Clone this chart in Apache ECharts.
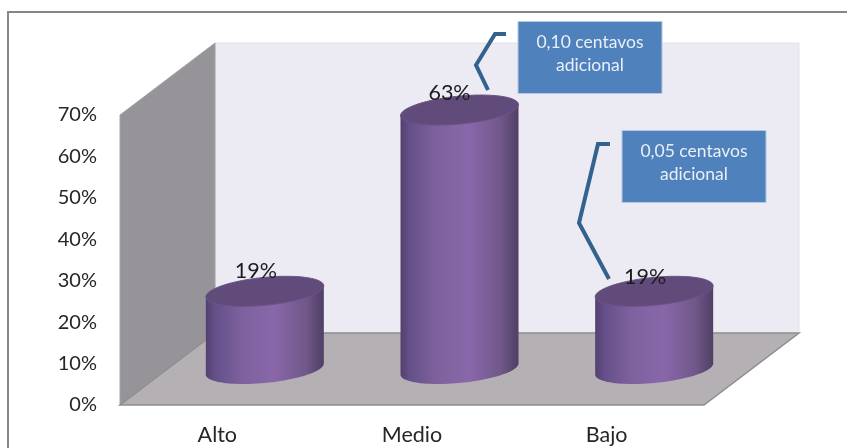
<!DOCTYPE html>
<html><head><meta charset="utf-8">
<style>html,body{margin:0;padding:0;background:#fff}#c{width:847px;height:448px}</style>
<script src="https://cdn.jsdelivr.net/npm/echarts@6/dist/echarts.min.js"></script>
</head><body><div id="c"></div>
<script>
const categories = ['Alto', 'Medio', 'Bajo'];
const values = [18.75, 62.5, 18.75];
const yTicks = [0, 10, 20, 30, 40, 50, 60, 70];
const notes = ['0,10 centavos\nadicional', '0,05 centavos\nadicional'];

const font = 'Lato';
const depthX = 95, depthY = -72;      // perspective shift from front to back of the floor
const labelNudge = [[-9, -20], [-10, -17], [-9, -14]];

const chart = echarts.init(document.getElementById('c'), null, {renderer: 'canvas'});

function ellipsePts(cx, cy, from, to) {
  const pts = [], n = 48;
  for (let i = 0; i <= n; i++) {
    const t = from + (to - from) * i / n;
    pts.push([cx + 59 * Math.cos(t), cy - 5.5 * Math.cos(t) + 14 * Math.sin(t)]);
  }
  return pts;
}

function renderWalls(params, api) {
  const cs = params.coordSys;
  const x0 = cs.x, x1 = cs.x + cs.width, yB = cs.y + cs.height, yT = cs.y;
  return {type: 'group', silent: true, children: [
    {type: 'polygon', shape: {points: [[x0 + depthX, yT + depthY], [x1 + depthX, yT + depthY], [x1 + depthX, yB + depthY], [x0 + depthX, yB + depthY]]},
      style: {fill: '#ECEAF2', stroke: '#E2E2E6', lineWidth: 1}},
    {type: 'polygon', shape: {points: [[x0, yT], [x0 + depthX, yT + depthY], [x0 + depthX, yB + depthY], [x0, yB]]},
      style: {fill: '#969499', stroke: '#A3A2A6', lineWidth: 1}},
    {type: 'polygon', shape: {points: [[x0, yB], [x0 + depthX, yB + depthY], [x1 + depthX, yB + depthY], [x1, yB]]},
      style: {fill: '#B4B0B4', stroke: '#8F8D90', lineWidth: 1.5}}
  ]};
}

function renderCyl(params, api) {
  const i = params.dataIndex;
  const base = api.coord([api.value(0), 0]);
  const top = api.coord([api.value(0), api.value(1)]);
  const cx = base[0] + depthX / 2, cyB = base[1] + depthY / 2, cyT = top[1] + depthY / 2;
  const topPts = ellipsePts(cx, cyT, 0, Math.PI * 2);
  const body = [[cx + 59, cyT - 5.5]].concat(ellipsePts(cx, cyB, 0, Math.PI), [[cx - 59, cyT + 5.5]]);
  const grad = new echarts.graphic.LinearGradient(0, 0, 1, 0, [
    {offset: 0, color: '#54406E'}, {offset: 0.08, color: '#65508A'}, {offset: 0.3, color: '#7D619D'},
    {offset: 0.58, color: '#8967AA'}, {offset: 0.85, color: '#705889'}, {offset: 1, color: '#4F3F66'}
  ]);
  return {type: 'group', children: [
    {type: 'polygon', shape: {points: body}, style: {fill: grad}},
    {type: 'polygon', shape: {points: topPts}, style: {fill: '#604B7B', stroke: '#6A5488', lineWidth: 1}},
    {type: 'text', z2: 10, style: {
      text: Math.round(api.value(1)) + '%',
      x: cx + labelNudge[i][0], y: cyT + labelNudge[i][1],
      align: 'center', verticalAlign: 'middle', font: '21.5px ' + font, fill: '#1C1C1C'}}
  ]};
}

function box(x, y, text) {
  return [
    {type: 'rect', z: 20, shape: {x: x, y: y, width: 144, height: 72},
      style: {fill: '#4F81BD', stroke: '#B5C9E2', lineWidth: 1}},
    {type: 'text', z: 21, style: {text: text, x: x + 72, y: y + 32, align: 'center', verticalAlign: 'middle',
      font: '17.5px ' + font, fill: '#E9EFF7', lineHeight: 23}}
  ];
}
function bracket(points) {
  return {type: 'polyline', z: 20, shape: {points: points}, style: {stroke: '#33628F', lineWidth: 4, fill: null}};
}

chart.setOption({
  animation: false,
  backgroundColor: '#fff',
  grid: {left: 120, top: 115, width: 584, height: 290, containLabel: false},
  xAxis: {type: 'category', data: categories, z: 5,
    axisLine: {show: false}, axisTick: {show: false},
    axisLabel: {margin: 19, fontFamily: font, fontSize: 21.5, color: '#262626'}},
  yAxis: {type: 'value', min: yTicks[0], max: yTicks[yTicks.length - 1], interval: 10,
    splitLine: {show: false}, axisLine: {show: false}, axisTick: {show: false},
    axisLabel: {margin: 23, fontFamily: font, fontSize: 20, color: '#262626', padding: [6, 0, 0, 0], formatter: v => v + '%'}},
  series: [
    {type: 'custom', z: 1, clip: false, renderItem: renderWalls, data: [0], silent: true},
    {type: 'custom', z: 2, clip: false, renderItem: renderCyl,
      encode: {x: 0, y: 1}, data: values.map((v, i) => [i, v])}
  ],
  graphic: {elements: [
    {type: 'polyline', z: 30, shape: {points: [[8, 448], [8, 12], [847, 12]]}, style: {stroke: '#868686', lineWidth: 2, fill: null}},
    bracket([[506, 34], [495, 34], [476, 65], [488, 90]]),
    bracket([[610, 144], [598, 144], [579, 223], [609, 279]]),
    ...box(518, 21.5, notes[0]),
    ...box(622, 130.5, notes[1])
  ]}
});
</script></body></html>
